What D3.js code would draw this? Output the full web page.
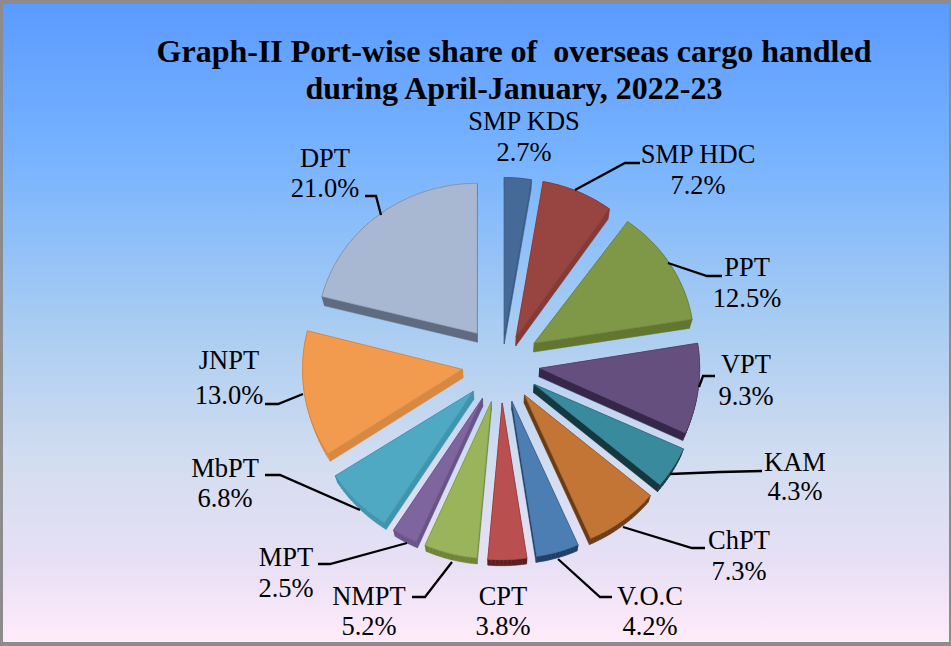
<!DOCTYPE html>
<html><head><meta charset="utf-8">
<script src="https://cdn.jsdelivr.net/npm/d3@7"></script>
<style>html,body{margin:0;padding:0;background:#8c8c8c}svg{display:block}text{font-family:"Liberation Serif",serif;fill:#000}</style>
</head><body><svg id="c" width="951" height="646"></svg>
<script>
const titleLines = ["Graph-II Port-wise share of  overseas cargo handled","during April-January, 2022-23"];
const categories = ["SMP KDS","SMP HDC","PPT","VPT","KAM","ChPT","V.O.C","CPT","NMPT","MPT","MbPT","JNPT","DPT"];
const shares = [2.7,7.2,12.5,9.3,4.3,7.3,4.2,3.8,5.2,2.5,6.8,13.0,21.0];
const topColors = ["#456A98","#984440","#7E9848","#654F7E","#3A8A9E","#C27534","#4C7DB3","#B9504F","#9AB45C","#7F659E","#4FA9C2","#F29A4E","#A9B8D2"];
const sideColors = ["#3A5B85","#853A36","#62762F","#35264A","#14383F","#6B3C14","#1F3F66","#5A2020","#6F8535","#6A528A","#3D95AE","#D98840","#5F6B80"];
const labelX = [524,698,747,746,795,739,650,503,369,286,225,229,325];
const labelY = [130,163,276,373,471,549,605,605,605,566,477,369,167];
const labelGap = [31,31,31,32,29,31,30,30,30,31,30,35,30];
const leaders = [
 null,
 [[575,190],[625,163],[640,163]],
 [[668,263],[707,276],[722,276]],
 [[699,387],[703,376],[715,376]],
 [[670,474],[720,472],[762,471]],
 [[623,527],[692,548],[705,548]],
 [[558,559],[600,597],[612,597]],
 null,
 [[452,562],[425,597],[412,597]],
 [[407,543],[330,564],[318,564]],
 [[360,510],[280,475],[265,475]],
 [[303,394],[278,404],[265,404]],
 [[381,215],[376,196],[365,196]]
];

const W=951,H=646,R=160;
const svg=d3.select("#c");
const defs=svg.append("defs");
const g=defs.append("linearGradient").attr("id","bg").attr("x1",0).attr("x2",0).attr("y1",0).attr("y2",1);
[[0,"#5B9BFF"],[.25,"#79B4FF"],[.5,"#A8CCF2"],[.72,"#D3DDF0"],[.88,"#E8E0F5"],[1,"#FFEBFA"]].forEach(s=>g.append("stop").attr("offset",s[0]).attr("stop-color",s[1]));
svg.append("rect").attr("x",3).attr("y",4).attr("width",946).attr("height",638).attr("fill","url(#bg)");

svg.selectAll("text.title").data(titleLines).join("text").attr("class","title")
  .attr("x",514).attr("y",(d,i)=>62+i*36.5).attr("text-anchor","middle")
  .attr("font-size",32).attr("font-weight","bold").style("white-space","pre").text(d=>d);

const pie=d3.pie().sort(null).startAngle(0).endAngle(2*Math.PI)(shares);
const apexX=d3.scaleLinear().domain([-1,1]).range([462,540]);
const apexY=d3.scaleLinear().domain([-1,-.15,.53,.78,.92,1]).range([403,369,343,333,337,335]);
const squash=d3.scaleLinear().domain([.4,.62]).range([.985,.935]).clamp(true);
const depthY=d3.scaleLinear().domain([180,560]).range([11,6]);
const depthX=d3.scaleLinear().domain([300,700]).range([3,-3]);
const line=d3.line();

const slices=pie.map((a,i)=>{
  const m=(a.startAngle+a.endAngle)/2;
  const ax=apexX(Math.sin(m)), ay=apexY(Math.cos(m));
  const k=Math.cos(m)>0?squash(Math.abs(Math.sin(m))):.98;
  const kx=Math.cos(m)<-.3?1.025:1;
  const n=Math.max(3,Math.ceil((a.endAngle-a.startAngle)*40));
  const pts=[[ax,ay]].concat(d3.range(n+1).map(j=>{
    const t=a.startAngle+(a.endAngle-a.startAngle)*j/n;
    return [ax+R*kx*Math.sin(t),ay-R*k*Math.cos(t)];
  }));
  return {i,pts};
});
const drop=p=>[p[0]+depthX(p[0]),p[1]+depthY(p[1])];

const gs=svg.selectAll("g.slice").data(slices).join("g").attr("class","slice");
gs.each(function(s){
  const el=d3.select(this);
  s.pts.forEach((p,j)=>{
    const q=s.pts[(j+1)%s.pts.length];
    el.append("path").attr("d",line([p,q,drop(q),drop(p)])+"Z").attr("fill",sideColors[s.i]).attr("stroke",sideColors[s.i]).attr("stroke-width",.5);
  });
  el.append("path").attr("d",line(s.pts)+"Z").attr("fill",topColors[s.i]).attr("stroke",d3.color(topColors[s.i]).darker(.5)).attr("stroke-width",.6);
});

svg.selectAll("path.leader").data(leaders.filter(Boolean)).join("path").attr("class","leader")
  .attr("d",d=>line(d)).attr("fill","none").attr("stroke","#000").attr("stroke-width",2.3);

const labs=svg.selectAll("g.lab").data(categories).join("g").attr("class","lab");
labs.append("text").attr("x",(d,i)=>labelX[i]).attr("y",(d,i)=>labelY[i]).attr("text-anchor","middle").attr("font-size",26.5).text(d=>d);
labs.append("text").attr("x",(d,i)=>labelX[i]).attr("y",(d,i)=>labelY[i]+labelGap[i]).attr("text-anchor","middle").attr("font-size",26.5).text((d,i)=>shares[i].toFixed(1)+"%");
</script></body></html>
